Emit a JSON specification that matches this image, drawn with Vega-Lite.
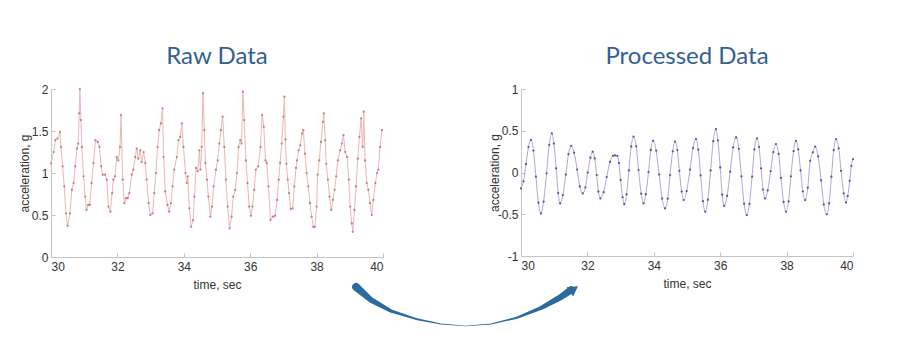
{
  "$schema": "https://vega.github.io/schema/vega-lite/v6.json",
  "background": "white",
  "padding": {"left": 18, "top": 45, "right": 0, "bottom": 0},
  "autosize": {"type": "pad"},
  "bounds": "flush",
  "spacing": 138,
  "config": {
    "view": {"stroke": null},
    "axis": {
      "domainColor": "#c4c4c4",
      "tickColor": "#c4c4c4",
      "tickSize": -4,
      "labelFont": "Liberation Sans",
      "labelFontSize": 12,
      "labelColor": "#333333",
      "labelPadding": 8,
      "titleFont": "Liberation Sans",
      "titleFontSize": 12,
      "titleFontWeight": "normal",
      "titleColor": "#333333",
      "grid": false
    },
    "title": {"font": "Lato", "fontSize": 24, "fontWeight": "normal", "color": "#34608f", "offset": 14, "anchor": "middle"}
  },
  "datasets": {
    "raw": [
      {"t":30.00,"v":1.115},{"t":30.08,"v":1.25},{"t":30.13,"v":1.39},{"t":30.20,"v":1.41},{"t":30.27,"v":1.49},{"t":30.30,"v":1.31},{"t":30.35,"v":1.08},{"t":30.40,"v":0.84},{"t":30.45,"v":0.52},{"t":30.50,"v":0.37},{"t":30.57,"v":0.52},{"t":30.63,"v":0.80},{"t":30.68,"v":0.88},{"t":30.73,"v":1.08},{"t":30.78,"v":1.29},{"t":30.82,"v":1.35},{"t":30.85,"v":1.71},{"t":30.87,"v":2.0},{"t":30.90,"v":1.63},{"t":30.93,"v":1.31},{"t":30.98,"v":0.96},{"t":31.03,"v":0.72},{"t":31.07,"v":0.56},{"t":31.12,"v":0.62},{"t":31.17,"v":0.62},{"t":31.22,"v":0.88},{"t":31.28,"v":1.12},{"t":31.34,"v":1.39},{"t":31.41,"v":1.37},{"t":31.46,"v":1.31},{"t":31.51,"v":1.08},{"t":31.56,"v":0.98},{"t":31.63,"v":0.98},{"t":31.68,"v":0.92},{"t":31.73,"v":0.60},{"t":31.79,"v":0.54},{"t":31.84,"v":0.76},{"t":31.88,"v":0.92},{"t":31.93,"v":0.96},{"t":31.98,"v":1.19},{"t":32.03,"v":1.15},{"t":32.08,"v":1.31},{"t":32.11,"v":1.69},{"t":32.16,"v":0.92},{"t":32.21,"v":0.64},{"t":32.26,"v":0.70},{"t":32.31,"v":0.70},{"t":32.36,"v":0.76},{"t":32.43,"v":0.98},{"t":32.48,"v":1.04},{"t":32.54,"v":1.19},{"t":32.58,"v":1.29},{"t":32.63,"v":1.17},{"t":32.69,"v":1.27},{"t":32.73,"v":1.13},{"t":32.79,"v":1.25},{"t":32.84,"v":1.12},{"t":32.88,"v":0.92},{"t":32.94,"v":0.64},{"t":32.99,"v":0.50},{"t":33.06,"v":0.52},{"t":33.11,"v":0.76},{"t":33.16,"v":1.00},{"t":33.21,"v":1.31},{"t":33.26,"v":1.51},{"t":33.31,"v":1.59},{"t":33.36,"v":1.77},{"t":33.39,"v":1.19},{"t":33.44,"v":0.78},{"t":33.51,"v":0.62},{"t":33.56,"v":0.54},{"t":33.61,"v":0.64},{"t":33.66,"v":0.84},{"t":33.71,"v":1.04},{"t":33.79,"v":1.19},{"t":33.84,"v":1.39},{"t":33.89,"v":1.43},{"t":33.94,"v":1.59},{"t":33.99,"v":1.31},{"t":34.05,"v":1.00},{"t":34.09,"v":0.88},{"t":34.12,"v":0.96},{"t":34.17,"v":0.58},{"t":34.22,"v":0.36},{"t":34.28,"v":0.44},{"t":34.32,"v":0.72},{"t":34.37,"v":1.06},{"t":34.42,"v":1.02},{"t":34.47,"v":1.27},{"t":34.50,"v":1.04},{"t":34.54,"v":1.31},{"t":34.58,"v":1.95},{"t":34.62,"v":1.51},{"t":34.65,"v":1.12},{"t":34.70,"v":0.92},{"t":34.74,"v":0.72},{"t":34.80,"v":0.48},{"t":34.85,"v":0.60},{"t":34.90,"v":0.84},{"t":34.97,"v":1.04},{"t":35.02,"v":1.15},{"t":35.07,"v":1.35},{"t":35.12,"v":1.51},{"t":35.17,"v":1.67},{"t":35.22,"v":1.31},{"t":35.27,"v":0.92},{"t":35.32,"v":0.60},{"t":35.38,"v":0.34},{"t":35.44,"v":0.48},{"t":35.49,"v":0.72},{"t":35.55,"v":0.80},{"t":35.60,"v":1.00},{"t":35.65,"v":1.31},{"t":35.70,"v":1.39},{"t":35.74,"v":1.35},{"t":35.78,"v":1.97},{"t":35.82,"v":1.63},{"t":35.87,"v":1.15},{"t":35.92,"v":0.88},{"t":35.97,"v":0.60},{"t":36.02,"v":0.49},{"t":36.07,"v":0.60},{"t":36.12,"v":0.80},{"t":36.17,"v":1.04},{"t":36.24,"v":1.08},{"t":36.31,"v":1.31},{"t":36.36,"v":1.69},{"t":36.41,"v":1.55},{"t":36.46,"v":1.15},{"t":36.50,"v":1.12},{"t":36.55,"v":0.84},{"t":36.61,"v":0.44},{"t":36.68,"v":0.48},{"t":36.75,"v":0.49},{"t":36.81,"v":0.68},{"t":36.86,"v":0.92},{"t":36.90,"v":1.12},{"t":36.95,"v":1.35},{"t":37.00,"v":1.67},{"t":37.03,"v":1.91},{"t":37.06,"v":1.40},{"t":37.09,"v":1.11},{"t":37.13,"v":0.92},{"t":37.17,"v":0.76},{"t":37.22,"v":0.57},{"t":37.28,"v":0.58},{"t":37.33,"v":0.84},{"t":37.38,"v":1.06},{"t":37.41,"v":1.15},{"t":37.46,"v":1.27},{"t":37.51,"v":1.33},{"t":37.56,"v":1.47},{"t":37.60,"v":1.51},{"t":37.65,"v":1.23},{"t":37.70,"v":1.00},{"t":37.75,"v":0.84},{"t":37.80,"v":0.64},{"t":37.85,"v":0.48},{"t":37.90,"v":0.36},{"t":37.95,"v":0.36},{"t":38.00,"v":0.60},{"t":38.03,"v":0.98},{"t":38.08,"v":1.15},{"t":38.13,"v":1.37},{"t":38.19,"v":1.61},{"t":38.22,"v":1.71},{"t":38.26,"v":1.39},{"t":38.29,"v":1.11},{"t":38.34,"v":0.92},{"t":38.39,"v":0.72},{"t":38.44,"v":0.56},{"t":38.49,"v":0.68},{"t":38.54,"v":0.80},{"t":38.59,"v":0.96},{"t":38.64,"v":1.15},{"t":38.71,"v":1.27},{"t":38.76,"v":1.35},{"t":38.81,"v":1.45},{"t":38.86,"v":1.25},{"t":38.92,"v":1.19},{"t":38.97,"v":0.92},{"t":39.01,"v":0.60},{"t":39.06,"v":0.40},{"t":39.09,"v":0.30},{"t":39.14,"v":0.56},{"t":39.19,"v":0.84},{"t":39.24,"v":1.17},{"t":39.29,"v":1.43},{"t":39.34,"v":1.65},{"t":39.39,"v":1.31},{"t":39.42,"v":1.73},{"t":39.46,"v":1.15},{"t":39.51,"v":0.88},{"t":39.56,"v":0.80},{"t":39.61,"v":0.64},{"t":39.66,"v":0.50},{"t":39.71,"v":0.68},{"t":39.77,"v":0.88},{"t":39.82,"v":1.00},{"t":39.86,"v":1.04},{"t":39.91,"v":1.31},{"t":39.97,"v":1.51}
    ],
    "proc": [
      {"t":30.00,"v":-0.19},{"t":30.075,"v":-0.105},{"t":30.15,"v":0.10},{"t":30.225,"v":0.305},{"t":30.30,"v":0.39},{"t":30.375,"v":0.262},{"t":30.45,"v":-0.05},{"t":30.525,"v":-0.362},{"t":30.60,"v":-0.49},{"t":30.68,"v":-0.35},{"t":30.77,"v":-0.01},{"t":30.85,"v":0.33},{"t":30.93,"v":0.47},{"t":30.99,"v":0.347},{"t":31.06,"v":0.05},{"t":31.12,"v":-0.247},{"t":31.18,"v":-0.37},{"t":31.26,"v":-0.27},{"t":31.35,"v":-0.025},{"t":31.43,"v":0.219},{"t":31.51,"v":0.32},{"t":31.60,"v":0.237},{"t":31.69,"v":0.035},{"t":31.77,"v":-0.167},{"t":31.86,"v":-0.25},{"t":31.94,"v":-0.177},{"t":32.01,"v":0.0},{"t":32.09,"v":0.177},{"t":32.16,"v":0.25},{"t":32.22,"v":0.168},{"t":32.28,"v":-0.03},{"t":32.33,"v":-0.228},{"t":32.39,"v":-0.31},{"t":32.49,"v":-0.236},{"t":32.58,"v":-0.055},{"t":32.68,"v":0.126},{"t":32.77,"v":0.20},{"t":32.83,"v":0.205},{"t":32.90,"v":0.20},{"t":32.95,"v":0.115},{"t":33.00,"v":-0.09},{"t":33.06,"v":-0.295},{"t":33.11,"v":-0.38},{"t":33.18,"v":-0.262},{"t":33.25,"v":0.025},{"t":33.32,"v":0.312},{"t":33.39,"v":0.43},{"t":33.47,"v":0.313},{"t":33.54,"v":0.03},{"t":33.62,"v":-0.253},{"t":33.69,"v":-0.37},{"t":33.76,"v":-0.26},{"t":33.84,"v":0.005},{"t":33.91,"v":0.27},{"t":33.98,"v":0.38},{"t":34.07,"v":0.262},{"t":34.16,"v":-0.025},{"t":34.25,"v":-0.312},{"t":34.34,"v":-0.43},{"t":34.42,"v":-0.313},{"t":34.49,"v":-0.03},{"t":34.57,"v":0.253},{"t":34.64,"v":0.37},{"t":34.71,"v":0.268},{"t":34.77,"v":0.02},{"t":34.84,"v":-0.228},{"t":34.90,"v":-0.33},{"t":34.99,"v":-0.223},{"t":35.09,"v":0.035},{"t":35.18,"v":0.293},{"t":35.27,"v":0.40},{"t":35.34,"v":0.273},{"t":35.41,"v":-0.035},{"t":35.48,"v":-0.343},{"t":35.55,"v":-0.47},{"t":35.63,"v":-0.325},{"t":35.71,"v":0.025},{"t":35.79,"v":0.375},{"t":35.87,"v":0.52},{"t":35.93,"v":0.386},{"t":36.00,"v":0.06},{"t":36.06,"v":-0.266},{"t":36.12,"v":-0.40},{"t":36.21,"v":-0.28},{"t":36.30,"v":0.01},{"t":36.39,"v":0.30},{"t":36.48,"v":0.42},{"t":36.56,"v":0.284},{"t":36.64,"v":-0.045},{"t":36.72,"v":-0.374},{"t":36.80,"v":-0.51},{"t":36.88,"v":-0.376},{"t":36.96,"v":-0.05},{"t":37.03,"v":0.276},{"t":37.11,"v":0.41},{"t":37.17,"v":0.305},{"t":37.23,"v":0.05},{"t":37.29,"v":-0.205},{"t":37.35,"v":-0.31},{"t":37.43,"v":-0.215},{"t":37.52,"v":0.015},{"t":37.60,"v":0.245},{"t":37.68,"v":0.34},{"t":37.76,"v":0.222},{"t":37.83,"v":-0.065},{"t":37.91,"v":-0.352},{"t":37.98,"v":-0.47},{"t":38.06,"v":-0.346},{"t":38.13,"v":-0.045},{"t":38.21,"v":0.256},{"t":38.28,"v":0.38},{"t":38.35,"v":0.276},{"t":38.42,"v":0.025},{"t":38.49,"v":-0.226},{"t":38.56,"v":-0.33},{"t":38.64,"v":-0.18},{"t":38.71,"v":0.14},{"t":38.79,"v":0.24},{"t":38.86,"v":0.31},{"t":38.95,"v":0.192},{"t":39.04,"v":-0.095},{"t":39.12,"v":-0.382},{"t":39.21,"v":-0.50},{"t":39.28,"v":-0.369},{"t":39.35,"v":-0.05},{"t":39.42,"v":0.269},{"t":39.49,"v":0.40},{"t":39.57,"v":0.289},{"t":39.64,"v":0.02},{"t":39.72,"v":-0.249},{"t":39.79,"v":-0.36},{"t":39.84,"v":-0.284},{"t":39.90,"v":-0.10},{"t":39.95,"v":0.08},{"t":40.00,"v":0.16}
    ],
    "arrow": [
      {"t":39.19,"v":-0.357},{"t":39.64,"v":-0.512},{"t":40.24,"v":-0.643},{"t":40.99,"v":-0.738},{"t":41.75,"v":-0.798},{"t":42.50,"v":-0.821},{"t":43.25,"v":-0.798},{"t":44.01,"v":-0.726},{"t":44.76,"v":-0.607},{"t":45.36,"v":-0.476},{"t":45.66,"v":-0.393}
    ],
    "arrowhead": [
      {"t":45.75,"v":-0.381}
    ]
  },
  "hconcat": [
    {
      "width": 332,
      "height": 168,
      "title": {"text": "Raw Data"},
      "layer": [
        {
          "data": {"name": "raw"},
          "mark": {"type": "line", "color": "#ecb6b6", "strokeWidth": 1},
          "encoding": {
            "x": {"field": "t", "type": "quantitative", "scale": {"domain": [30, 40], "nice": false},
                  "axis": {"values": [30, 32, 34, 36, 38, 40], "title": "time, sec", "labelExpr": "datum.value + ''", "titlePadding": 7}},
            "y": {"field": "v", "type": "quantitative", "scale": {"domain": [0, 2], "nice": false},
                  "axis": {"values": [0, 0.5, 1, 1.5, 2], "title": "acceleration, g", "labelExpr": "datum.value + ''", "labelPadding": 7, "titleX": -20, "titleY": 84}}
          }
        },
        {
          "data": {"name": "raw"},
          "mark": {"type": "point", "filled": true, "size": 5, "color": "#c47272", "opacity": 0.9},
          "encoding": {
            "x": {"field": "t", "type": "quantitative", "scale": {"domain": [30, 40], "nice": false}},
            "y": {"field": "v", "type": "quantitative", "scale": {"domain": [0, 2], "nice": false}}
          }
        },
        {
          "data": {"name": "arrow"},
          "mark": {"type": "trail", "color": "#2c6b9e"},
          "encoding": {
            "x": {"field": "t", "type": "quantitative", "scale": {"domain": [30, 40], "nice": false}},
            "y": {"field": "v", "type": "quantitative", "scale": {"domain": [0, 2], "nice": false}},
            "size": {"field": "v", "type": "quantitative", "scale": {"domain": [-0.82, -0.36], "range": [0.5, 8]}, "legend": null}
          }
        },
        {
          "data": {"name": "arrowhead"},
          "mark": {"type": "point", "shape": "triangle-right", "filled": true, "size": 130, "angle": -35, "color": "#2c6b9e", "opacity": 1},
          "encoding": {
            "x": {"field": "t", "type": "quantitative", "scale": {"domain": [30, 40], "nice": false}},
            "y": {"field": "v", "type": "quantitative", "scale": {"domain": [0, 2], "nice": false}}
          }
        }
      ]
    },
    {
      "width": 332,
      "height": 167,
      "title": {"text": "Processed Data"},
      "layer": [
        {
          "mark": {"type": "rule", "color": "#d4d4d4", "strokeWidth": 1},
          "encoding": {"y": {"datum": 0, "type": "quantitative", "scale": {"domain": [-1, 1], "nice": false}}}
        },
        {
          "data": {"name": "proc"},
          "mark": {"type": "line", "color": "#a9a9d2", "strokeWidth": 1, "interpolate": "monotone"},
          "encoding": {
            "x": {"field": "t", "type": "quantitative", "scale": {"domain": [30, 40], "nice": false},
                  "axis": {"values": [30, 32, 34, 36, 38, 40], "title": "time, sec", "labelExpr": "datum.value + ''", "titlePadding": 7}},
            "y": {"field": "v", "type": "quantitative", "scale": {"domain": [-1, 1], "nice": false},
                  "axis": {"values": [-1, -0.5, 0, 0.5, 1], "title": "acceleration, g", "labelExpr": "datum.value + ''", "labelPadding": 7, "titleX": -20, "titleY": 83.5}}
          }
        },
        {
          "data": {"name": "proc"},
          "mark": {"type": "point", "filled": true, "size": 5, "color": "#414c8e", "opacity": 0.9},
          "encoding": {
            "x": {"field": "t", "type": "quantitative", "scale": {"domain": [30, 40], "nice": false}},
            "y": {"field": "v", "type": "quantitative", "scale": {"domain": [-1, 1], "nice": false}}
          }
        }
      ]
    }
  ]
}
